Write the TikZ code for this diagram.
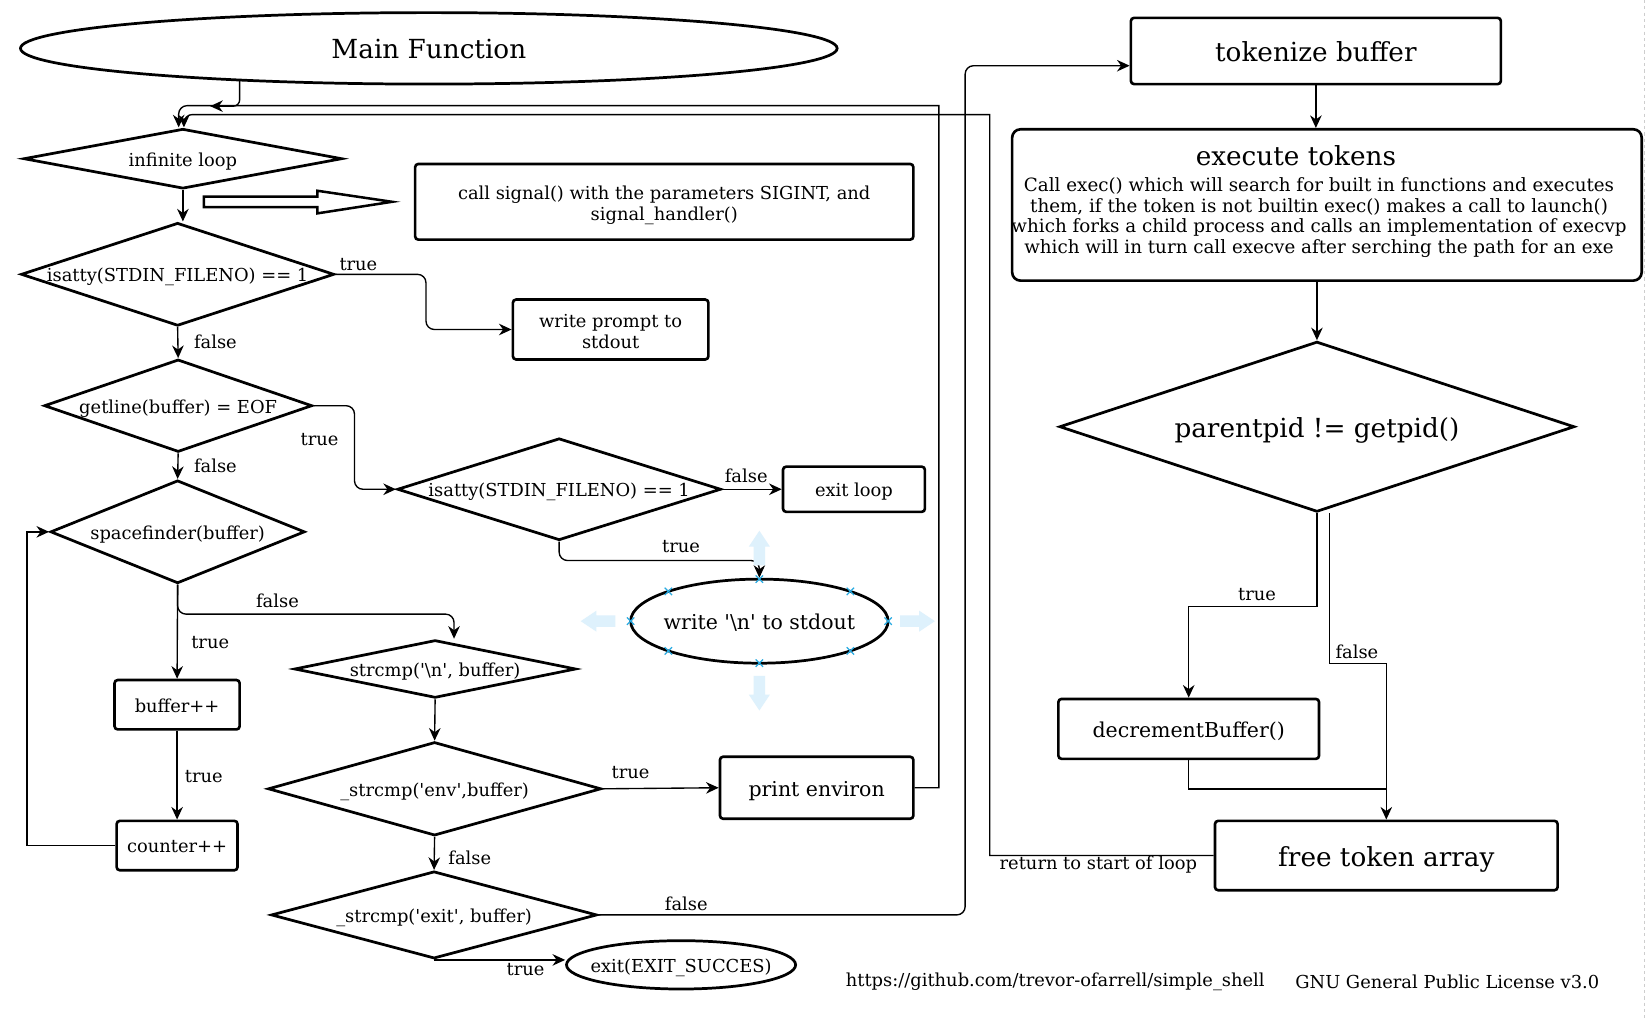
\documentclass[tikz,border=0pt]{standalone}
\usepackage{fontspec}
\setmainfont{DejaVu Serif}
\usetikzlibrary{shapes.geometric, arrows.meta, positioning, calc}
\definecolor{hoverblue}{RGB}{222,241,252}
\definecolor{markblue}{RGB}{41,171,226}
\definecolor{pagegray}{RGB}{205,205,205}
\tikzset{
	every node/.style={font=\fontsize{17}{20}\selectfont},
	bigtext/.style={font=\fontsize{25}{30}\selectfont},
	midtext/.style={font=\fontsize{19.5}{23}\selectfont},
	oneline/.style={text height=18pt, text depth=4pt},
	midline/.style={text height=21pt, text depth=5pt},
	bigline/.style={text height=26pt, text depth=6pt}
}
\tikzset{
	decision/.style={diamond, draw, line width=2.6pt, inner sep=0pt, oneline},
	procbox/.style={rectangle, draw, line width=2.5pt, rounded corners=3pt, align=center, inner sep=0pt},
	terminal/.style={ellipse, draw, line width=2.6pt, inner sep=0pt, oneline},
	flow/.style={line width=1.3pt, -{Stealth[length=12pt, width=11pt]}},
	link/.style={line width=1.3pt},
	lbl/.style={inner sep=0pt}
}
\newcommand{\flowtxt}[1]{\makebox[0pt]{#1}}
\newcommand{\sq}{\textquotesingle}

\begin{document}
\begin{tikzpicture}[x=1pt, y=-1pt]
	\fill[white] (0,0) rectangle (1568,970);
	\useasboundingbox (0,0) rectangle (1568,970);
	\draw[pagegray, dashed, line width=0.8pt] (1565,0) -- (1565,970);

	% left column
	\node[terminal, minimum width=777, minimum height=68, bigtext, bigline] (main) at (408,46) {Main Function};
	\node[decision, minimum width=303, minimum height=57] (inf) at (174,151) {\flowtxt{infinite loop}};
	\node[decision, minimum width=298, minimum height=98] (isatty1) at (169,261) {\flowtxt{isatty(STDIN\_FILENO) == 1}};
	\node[decision, minimum width=255, minimum height=88] (getline) at (169.5,386) {\flowtxt{getline(buffer) = EOF}};
	\node[decision, minimum width=242, minimum height=98] (space) at (169,506) {\flowtxt{spacefinder(buffer)}};
	\node[procbox, oneline, minimum width=119, minimum height=47] (bufinc) at (168.5,670.5) {buffer++};
	\node[procbox, oneline, minimum width=115, minimum height=47] (cnt) at (168.5,804.5) {counter++};

	% middle column
	\node[procbox, text height=40pt, minimum width=474, minimum height=72] (sig) at (632,192) {call signal() with the parameters SIGINT, and\\signal\_handler()};
	\node[procbox, text height=36pt, minimum width=186, minimum height=57] (prompt) at (581,313.5) {write prompt to\\stdout};
	\node[decision, minimum width=308, minimum height=97] (isatty2) at (532,465.5) {\flowtxt{isatty(STDIN\_FILENO) == 1}};
	\node[procbox, oneline, minimum width=135, minimum height=43] (exitloop) at (812.5,465.5) {exit loop};
	\node[terminal, minimum width=245, minimum height=80, midtext, midline] (nl) at (722.5,591) {\flowtxt{write \sq\textbackslash n\sq{} to stdout}};
	\node[decision, minimum width=268, minimum height=55] (cmpnl) at (414,636.5) {\flowtxt{strcmp(\sq\textbackslash n\sq, buffer)}};
	\node[decision, minimum width=317, minimum height=89] (cmpenv) at (413.5,750.5) {\flowtxt{\_strcmp(\sq env\sq,buffer)}};
	\node[procbox, midline, minimum width=184, minimum height=59, midtext] (envprint) at (777,749.5) {print environ};
	\node[decision, minimum width=310, minimum height=83] (cmpexit) at (413,870.5) {\flowtxt{\_strcmp(\sq exit\sq, buffer)}};
	\node[terminal, minimum width=218, minimum height=46] (succ) at (648,918) {\flowtxt{exit(EXIT\_SUCCES)}};

	% right column
	\node[procbox, bigline, minimum width=352, minimum height=63, bigtext] (tok) at (1252,48.5) {tokenize buffer};
	\node[procbox, rounded corners=8pt, minimum width=599, minimum height=144] (exec) at (1262.5,195) {};
	\node[lbl, bigtext] (exectitle) at (1233,148) {execute tokens};
	\node[lbl, align=center, font=\fontsize{17.4}{19.7}\selectfont] (execbody) at (1255,207) {Call exec() which will search for built in functions and executes\\them, if the token is not builtin exec() makes a call to launch()\\which forks a child process and calls an implementation of execvp\\which will in turn call execve after serching the path for an exe};
	\node[decision, minimum width=490, minimum height=162, bigtext, bigline] (ppid) at (1253,406) {\flowtxt{parentpid != getpid()}};
	\node[procbox, midline, minimum width=248, minimum height=57, midtext] (dec) at (1131,693.5) {decrementBuffer()};
	\node[procbox, bigline, minimum width=326, minimum height=66, bigtext] (free) at (1319,814) {free token array};

	% hollow arrow
	\draw[line width=2.4pt] (194,187) -- (302,187) -- (302,181.5) -- (373,192) -- (302,203) -- (302,197) -- (194,197) -- cycle;

	% connectors
	\coordinate (mainend) at (200,101);
	\draw[flow, rounded corners=6pt] (main.south) ++(-180,-4) |- (mainend);
	\draw[flow] (envprint.east) -- ++(23,0) -- ++(0,-649) [rounded corners=8pt] -| ([xshift=-4pt]inf.north);
	\draw[flow] (free.west) -- ++(-213,0) -- ++(0,-705) [rounded corners=8pt] -| ([xshift=1pt]inf.north);
	\draw[flow] (inf.south) -- (inf.south |- isatty1.north);
	\draw[flow, rounded corners=8pt] (isatty1.east) -- ++(86,0) |- (prompt.west);
	\draw[flow] (isatty1.south) -- (getline.north);
	\draw[flow, rounded corners=8pt] (getline.east) -- ++(39,0) |- (isatty2.west);
	\draw[flow] (getline.south) -- (space.north);
	\draw[flow] (isatty2.east) -- (exitloop.west);
	\draw[flow, rounded corners=8pt] (isatty2.south) -- ++(0,18) -| (nl.north);
	\draw[flow] (space.south) -- (bufinc.north);
	\draw[flow, rounded corners=8pt] (space.south) -- ++(0,28) -| ([xshift=18pt]cmpnl.north);
	\draw[flow] (bufinc.south) -- (cnt.north);
	\draw[flow] (cnt.west) -- ++(-84,0) |- (space.west);
	\draw[flow] (cmpnl.south) -- (cmpenv.north);
	\draw[flow] (cmpenv.east) -- (envprint.west);
	\draw[flow] (cmpenv.south) -- (cmpexit.north);
	\draw[flow, rounded corners=8pt] (cmpexit.east) -- ++(349,0) |- ([yshift=-14pt]tok.west);
	\draw[flow] (cmpexit.south) -- (cmpexit.south -| succ.west);
	\draw[flow] (tok.south) -- (tok.south |- exec.north);
	\draw[flow] (ppid.north |- exec.south) -- (ppid.north);
	\draw[flow] (ppid.south) -- ++(0,89) -| (dec.north);
	\draw[flow] ([xshift=12pt]ppid.south) -- ++(0,143) -| (free.north);
	\draw[link] (dec.south) |- ([yshift=29pt]free.north);

	% connector labels
	\node[lbl] (l1) at (341,252) {true};
	\node[lbl] (l2) at (205,325) {false};
	\node[lbl] (l3) at (304,418) {true};
	\node[lbl] (l4) at (205,443) {false};
	\node[lbl] (l5) at (710,453) {false};
	\node[lbl] (l6) at (648,520) {true};
	\node[lbl] (l7) at (264,572) {false};
	\node[lbl] (l8) at (200,611) {true};
	\node[lbl] (l9) at (194,739) {true};
	\node[lbl] (l10) at (600,735) {true};
	\node[lbl] (l11) at (447,816) {false};
	\node[lbl] (l12) at (653,860) {false};
	\node[lbl] (l13) at (500,922) {true};
	\node[lbl] (l14) at (1196,566) {true};
	\node[lbl] (l15) at (1291,620) {false};
	\node[lbl] (l16) at (1045,823) {return to start of loop};

	% footer
	\node[lbl] (url) at (1004,934) {https://github.com/trevor-ofarrell/simple\_shell};
	\node[lbl] (lic) at (1377,934) {GNU General Public License v3.0};

	% hover handles round the selected ellipse
	\begin{scope}[shift={(nl.center)}]
		\foreach \r/\s/\t in {0/134/167, 90/53/86, 180/137/170, 270/52/85}
			\fill[hoverblue, rotate=\r] (\s,-5.5) -- ({\t-15},-5.5) -- ({\t-15},-10) -- (\t,0) -- ({\t-15},10) -- ({\t-15},5.5) -- (\s,5.5) -- cycle;
		\foreach \a in {0,45,...,315}
			\draw[markblue, line width=1.2pt] ({122.5*cos(\a)},{40*sin(\a)}) +(-3.5,-3.5) -- +(3.5,3.5) +(-3.5,3.5) -- +(3.5,-3.5);
	\end{scope}
\end{tikzpicture}
\end{document}
